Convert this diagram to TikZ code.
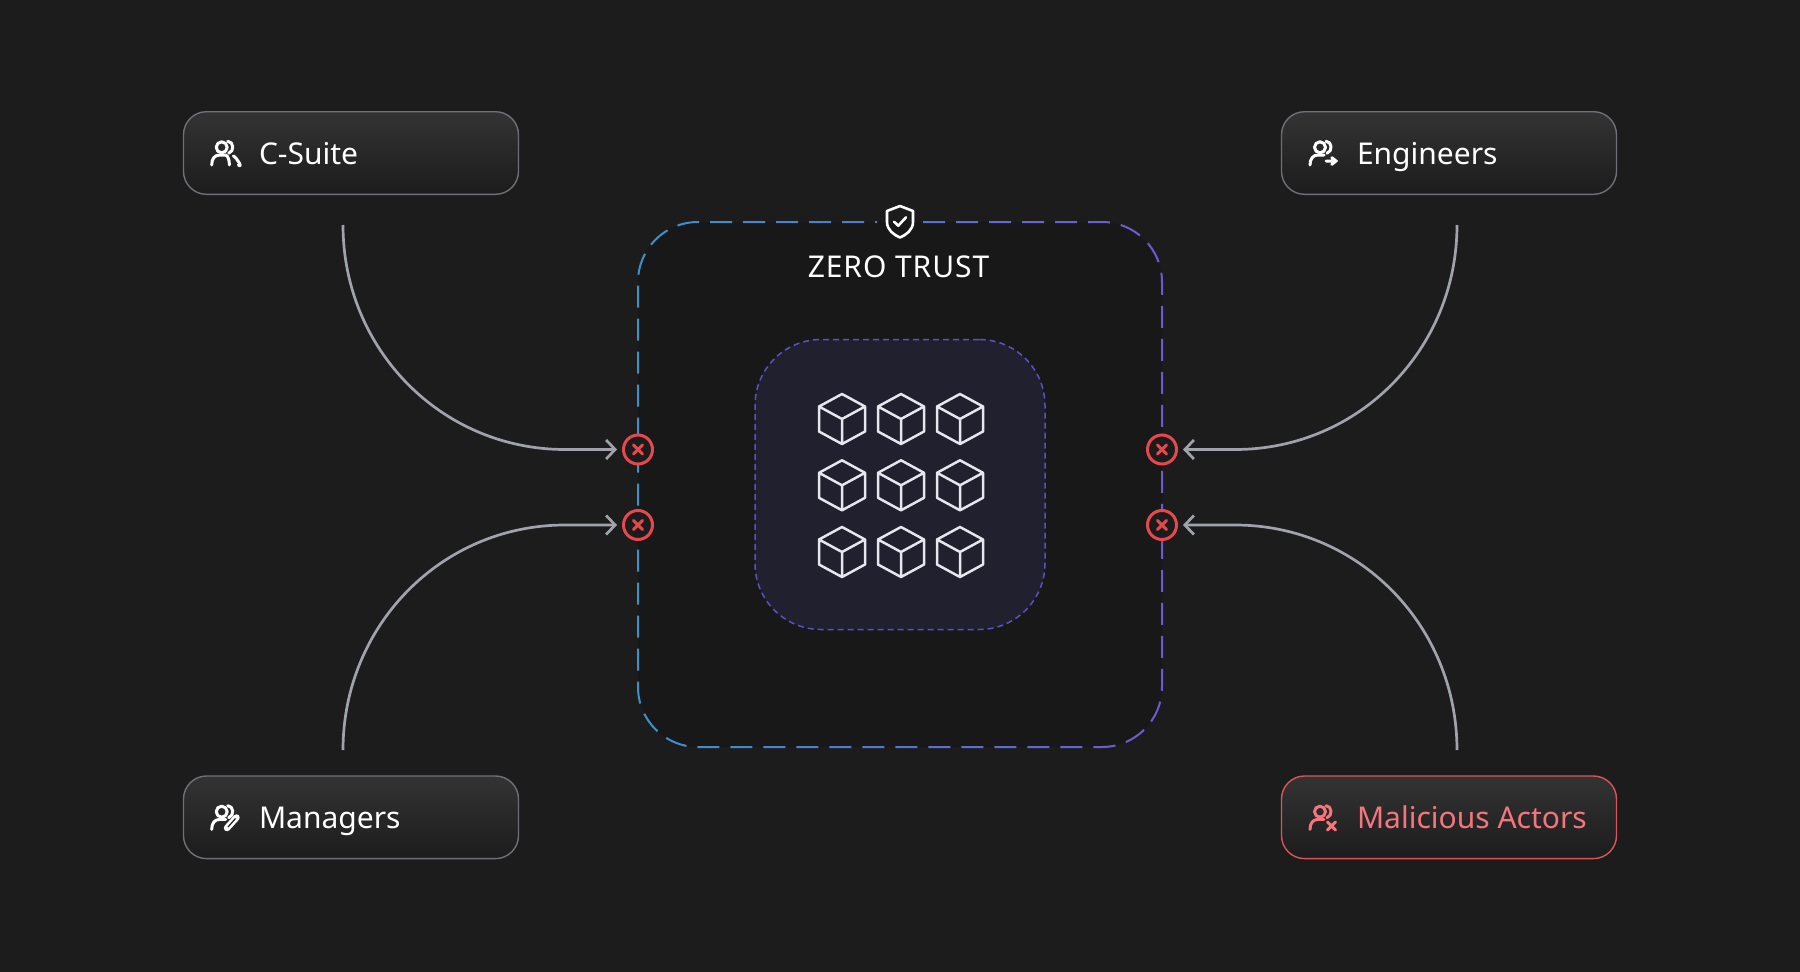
\documentclass[tikz,border=0pt]{standalone}
\usepackage{fontspec}
\setmainfont{Noto Sans}
\usetikzlibrary{arrows.meta}
\definecolor{pagebg}{HTML}{1C1C1C}
\definecolor{framebg}{HTML}{181818}
\definecolor{vaultbg}{HTML}{20202E}
\definecolor{dashblue}{HTML}{3C92C8}
\definecolor{dashpurple}{HTML}{7058D4}
\definecolor{vaultdash}{HTML}{5A50C8}
\definecolor{wire}{HTML}{A0A3AC}
\definecolor{edgegray}{HTML}{6E7078}
\definecolor{crossred}{HTML}{E5484D}
\definecolor{alertedge}{HTML}{D9555A}
\definecolor{alerttext}{HTML}{F4767C}
\definecolor{cubeline}{HTML}{E6E6EE}
\definecolor{boxtop}{HTML}{333333}
\tikzset{
  rolebox/.style={draw=edgegray, line width=1.4pt, rounded corners=23pt, top color=boxtop, bottom color=pagebg,
    minimum width=335pt, minimum height=82.6pt, inner sep=0pt},
  rolelabel/.style={anchor=base west, inner sep=0pt, text=white, font=\fontsize{30}{36}\selectfont},
  wirepath/.style={draw=wire, line width=2.7pt, -{Straight Barb[length=9pt,width=19pt]}, shorten >=5pt},
  blocked/.style={circle, draw=crossred, line width=3pt, fill=pagebg, minimum size=29pt, inner sep=0pt},
  crossmark/.style={draw=crossred, line width=3pt, line cap=round},
  iconline/.style={line width=3pt, line cap=round, line join=round},
  pics/crew/.style={code={
    \draw[iconline] (0,0) circle (5.5);
    \draw[iconline] (-10,17.7) .. controls (-10,11.5) and (-7,7.7) .. (-2,7.7) -- (4,7.7);
    \draw[iconline] (6,-6) .. controls (12,-6) and (13,4) .. (7,6);
  }},
  pics/cube/.style={code={
    \draw[cubeline, line width=2.5pt, line join=round] (0,-25) -- (23,-12.5) -- (23,12.5) -- (0,25) -- (-23,12.5) -- (-23,-12.5) -- cycle
      (-23,-12.5) -- (0,0) -- (23,-12.5) (0,0) -- (0,25);
  }}
}
\begin{document}
\begin{tikzpicture}[x=1pt, y=-1pt]
  \useasboundingbox[fill=pagebg] (0,0) rectangle (1800,972);
  \node[fill=framebg, rounded corners=60pt, minimum width=524pt, minimum height=525pt, inner sep=0pt] (frame) at (900,484.5) {};
  \foreach \i in {0,...,19} {
    \pgfmathsetmacro\pct{\i*100/19}
    \begin{scope}
      \clip (630+\i*27,200) rectangle (657.5+\i*27,770);
      \draw[color=dashpurple!\pct!dashblue, line width=2pt, dash pattern=on 22pt off 11pt, rounded corners=60pt]
        (923,222) -- (1162,222) -- (1162,747) -- (638,747) -- (638,222) -- (877,222);
    \end{scope}
  }
  \node[draw=vaultdash, fill=vaultbg, line width=1.5pt, dash pattern=on 6pt off 4pt, rounded corners=66pt,
    minimum width=290pt, minimum height=290pt, inner sep=0pt] (vault) at (900,484.5) {};
  \foreach \y in {419,485.3,552} \foreach \x in {842,901,960} \pic at (\x,\y) {cube};
  \draw[white, line width=2.6pt, line join=round] (900,206) -- (913,211) -- (913,222) .. controls (913,230) and (906,235) .. (900,237.5)
    .. controls (894,235) and (887,230) .. (887,222) -- (887,211) -- cycle;
  \draw[white, line width=2.6pt, line cap=round, line join=round] (894,221.7) -- (898.3,225.7) -- (906,217.3);
  \node[text=white, font=\fontsize{30}{36}\selectfont\addfontfeature{LetterSpace=3}, anchor=base, inner sep=0pt] (title) at (898.5,277.5) {ZERO TRUST};
  \foreach \n/\x/\y/\t in {csuite/351/153/C-Suite, engineers/1449/153/Engineers, managers/351/817.3/Managers} {
    \node[rolebox] (\n) at (\x,\y) {};
    \node[rolelabel] (\n label) at ([xshift=76pt,yshift=-11pt]\n.west) {\t};
  }
  \node[rolebox, draw=alertedge] (malicious) at (1449,817.3) {};
  \node[rolelabel, text=alerttext] (malicious label) at ([xshift=76pt,yshift=-11pt]malicious.west) {Malicious Actors};
  \pic[color=white] at (221.7,147.3) {crew};
  \draw[iconline, white] (225.7,155) .. controls (228,156) and (229.4,160) .. (229.4,165);
  \draw[iconline, white] (233.4,156) .. controls +(3,1) and +(5,4) .. +(5,9);
  \pic[color=white] at (1320,147.3) {crew};
  \draw[iconline, white] (1326,161) -- (1336.7,161) (1331.7,157.6) -- (1336,161) -- (1331.7,164.4);
  \pic[color=white] at (221.7,811.7) {crew};
  \draw[white, line width=6.5pt, line cap=round] (227,828) -- (236.5,817.5);
  \draw[pagebg, line width=1.2pt] (228,827) -- (235.5,818.5);
  \pic[color=alerttext] at (1320,811.7) {crew};
  \draw[iconline, alerttext] (1327.5,822) -- (1335.5,830) (1335.5,822) -- (1327.5,830);
  \node[blocked] (xa) at (638,449.5) {};
  \node[blocked] (xb) at (638,525) {};
  \node[blocked] (xc) at (1162,449.5) {};
  \node[blocked] (xd) at (1162,525) {};
  \foreach \n in {xa,xb,xc,xd} {
    \draw[crossmark] ([shift={(-4.5,-4.5)}]\n.center) -- ([shift={(4.5,4.5)}]\n.center);
    \draw[crossmark] ([shift={(-4.5,4.5)}]\n.center) -- ([shift={(4.5,-4.5)}]\n.center);
  }
  \coordinate (fromcsuite) at (343,225);
  \coordinate (frommanagers) at (343,750);
  \coordinate (fromengineers) at (1457,225);
  \coordinate (frommalicious) at (1457,750);
  \draw[wirepath] (fromcsuite) .. controls (343,349) and (441,449.5) .. (565,449.5) -- (xa.west);
  \draw[wirepath] (frommanagers) .. controls (343,626) and (441,525) .. (565,525) -- (xb.west);
  \draw[wirepath] (fromengineers) .. controls (1457,349) and (1359,449.5) .. (1235,449.5) -- (xc.east);
  \draw[wirepath] (frommalicious) .. controls (1457,626) and (1359,525) .. (1235,525) -- (xd.east);
\end{tikzpicture}
\end{document}
